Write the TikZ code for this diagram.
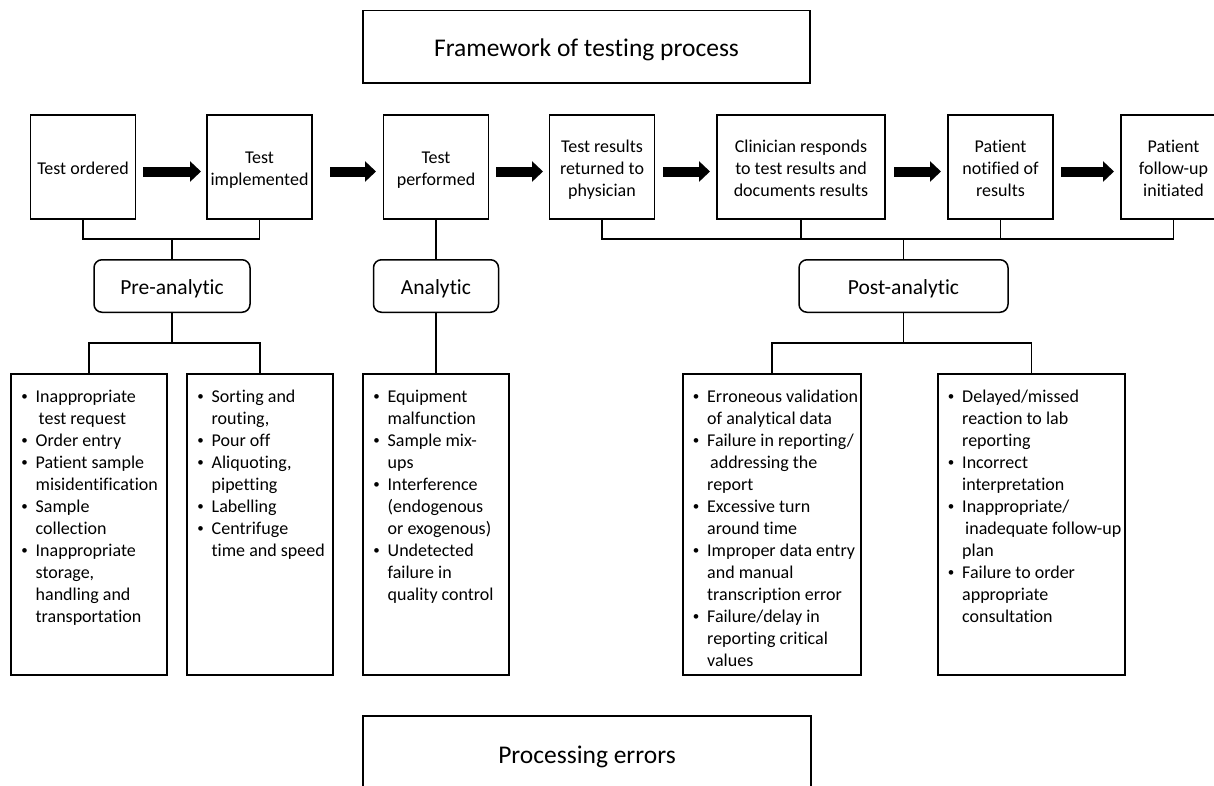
\documentclass[tikz,border=0pt]{standalone}
\usepackage{fontspec}
\setmainfont{Carlito}[Ligatures=NoCommon]
\usetikzlibrary{arrows.meta}
\newcommand\lbul{\llap{\makebox[22pt][c]{\raisebox{1.2pt}{\fontsize{13}{13}\selectfont•}}}}
\begin{document}
\begin{tikzpicture}[x=1pt,y=-1pt,
  box/.style={draw, line width=1.5pt, inner sep=0pt, outer sep=0pt, rectangle},
  titlebox/.style={box, text height=18.5pt, text depth=0pt, font=\fontsize{25.5}{30}\selectfont},
  rowbox/.style={box, minimum height=104pt, text height=15.2pt, text depth=0pt, font=\fontsize{18}{22}\selectfont},
  phase/.style={box, rounded corners=8pt, minimum height=52.5pt, text height=16pt, text depth=0pt, font=\fontsize{21.5}{26}\selectfont},
  listbox/.style={box, minimum height=301pt},
  listtext/.style={anchor=base west, inner sep=0pt, font=\fontsize{18}{22}\selectfont},
  conn/.style={line width=1.5pt},
  blockarrow/.style={line width=10pt, -{Triangle[length=11pt, width=20pt]}}
]
\useasboundingbox (0,0) rectangle (1214,785);
\clip (0,0) rectangle (1214,785);

% title
\node[titlebox, minimum width=447pt, minimum height=72.5pt] (title) at (586.5,46.75) {Framework of testing process};

% process row
\node[rowbox, minimum width=105pt] (o1) at (83,167) {\begin{tabular}{@{}c@{}}Test ordered\end{tabular}};
\node[rowbox, minimum width=105pt] (o2) at (259.5,167) {\begin{tabular}{@{}c@{}}Test\\implemented\end{tabular}};
\node[rowbox, minimum width=105pt] (o3) at (436,167) {\begin{tabular}{@{}c@{}}Test\\performed\end{tabular}};
\node[rowbox, minimum width=105pt] (o4) at (602,167) {\begin{tabular}{@{}c@{}}Test results\\returned to\\physician\end{tabular}};
\node[rowbox, minimum width=168pt] (o5) at (801,167) {\begin{tabular}{@{}c@{}}Clinician responds\\to test results and\\documents results\end{tabular}};
\node[rowbox, minimum width=105pt] (o6) at (1000.5,167) {\begin{tabular}{@{}c@{}}Patient\\notified of\\results\end{tabular}};
\node[rowbox, minimum width=105pt] (o7) at (1173.5,167) {\begin{tabular}{@{}c@{}}Patient\\follow-up\\initiated\end{tabular}};

% block arrows
\draw[blockarrow] ([xshift=7.5pt,yshift=-4.5pt]o1.east) -- ([xshift=-6pt,yshift=-4.5pt]o2.west);
\draw[blockarrow] ([xshift=18pt,yshift=-4.5pt]o2.east) -- ([xshift=-7.5pt,yshift=-4.5pt]o3.west);
\draw[blockarrow] ([xshift=7.5pt,yshift=-4.5pt]o3.east) -- ([xshift=-6.5pt,yshift=-4.5pt]o4.west);
\draw[blockarrow] ([xshift=8.5pt,yshift=-4.5pt]o4.east) -- ([xshift=-7pt,yshift=-4.5pt]o5.west);
\draw[blockarrow] ([xshift=9pt,yshift=-4.5pt]o5.east) -- ([xshift=-7pt,yshift=-4.5pt]o6.west);
\draw[blockarrow] ([xshift=8pt,yshift=-4.5pt]o6.east) -- ([xshift=-7pt,yshift=-4.5pt]o7.west);

% phases
\node[phase, minimum width=156pt] (pre) at (172,286) {Pre-analytic};
\node[phase, minimum width=125pt] (ana) at (436,286) {Analytic};
\node[phase, minimum width=209pt] (post) at (903.5,286) {Post-analytic};

% list boxes
\node[listbox, minimum width=156pt] (b1) at (89,524.5) {};
\node[listbox, minimum width=146pt] (b2) at (260,524.5) {};
\node[listbox, minimum width=146pt] (b3) at (436,524.5) {};
\node[listbox, minimum width=178pt] (b4) at (772,524.5) {};
\node[listbox, minimum width=187pt] (b5) at (1031.5,524.5) {};

\node[listtext] (l1) at (35.5,402) {\begin{tabular}[t]{@{}l@{}}
\lbul Inappropriate\\
\hspace*{3pt}test request\\
\lbul Order entry\\
\lbul Patient sample\\
misidentification\\
\lbul Sample\\
collection\\
\lbul Inappropriate\\
storage,\\
handling and\\
transportation
\end{tabular}};

\node[listtext] (l2) at (211.5,402) {\begin{tabular}[t]{@{}l@{}}
\lbul Sorting and\\
routing,\\
\lbul Pour off\\
\lbul Aliquoting,\\
pipetting\\
\lbul Labelling\\
\lbul Centrifuge\\
time and speed
\end{tabular}};

\node[listtext] (l3) at (387.5,402) {\begin{tabular}[t]{@{}l@{}}
\lbul Equipment\\
malfunction\\
\lbul Sample mix-\\
ups\\
\lbul Interference\\
(endogenous\\
or exogenous)\\
\lbul Undetected\\
failure in\\
quality control
\end{tabular}};

\node[listtext] (l4) at (707,402) {\begin{tabular}[t]{@{}l@{}}
\lbul Erroneous validation\\
of analytical data\\
\lbul Failure in reporting/\\
\hspace*{3pt}addressing the\\
report\\
\lbul Excessive turn\\
around time\\
\lbul Improper data entry\\
and manual\\
transcription error\\
\lbul Failure/delay in\\
reporting critical\\
values
\end{tabular}};

\node[listtext] (l5) at (962,402) {\begin{tabular}[t]{@{}l@{}}
\lbul Delayed/missed\\
reaction to lab\\
reporting\\
\lbul Incorrect\\
interpretation\\
\lbul Inappropriate/\\
\hspace*{3pt}inadequate follow-up\\
plan\\
\lbul Failure to order\\
appropriate\\
consultation
\end{tabular}};

% bottom box
\node[titlebox, minimum width=448pt, minimum height=75.5pt] (errors) at (587,753.75) {Processing errors};

% connectors
\coordinate (hb) at (0,239);
\coordinate (lb) at (0,343);
\draw[conn] (o1.south) -- (o1.south |- hb) -- (o2.south |- hb) -- (o2.south);
\draw[conn] (pre.north) -- (pre.north |- hb);
\draw[conn] (o3.south) -- (ana.north);
\draw[conn] (o4.south) -- (o4.south |- hb) -- (o7.south |- hb) -- (o7.south);
\draw[conn] (o5.south) -- (o5.south |- hb);
\draw[conn] (o6.south) -- (o6.south |- hb);
\draw[conn] (post.north) -- (post.north |- hb);
\draw[conn] (pre.south) -- (pre.south |- lb);
\draw[conn] (b1.north) -- (b1.north |- lb) -- (b2.north |- lb) -- (b2.north);
\draw[conn] (ana.south) -- (b3.north);
\draw[conn] (post.south) -- (post.south |- lb);
\draw[conn] (b4.north) -- (b4.north |- lb) -- (b5.north |- lb) -- (b5.north);
\end{tikzpicture}
\end{document}
